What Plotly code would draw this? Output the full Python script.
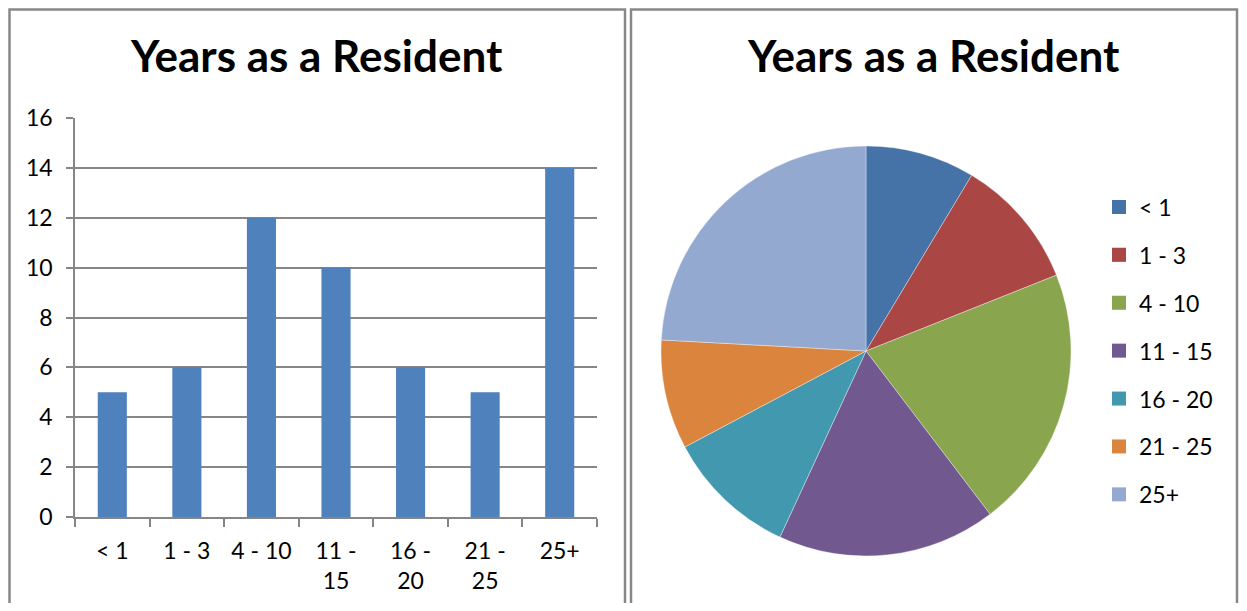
import plotly.graph_objects as go

categories = ["< 1", "1 - 3", "4 - 10", "11 - 15", "16 - 20", "21 - 25", "25+"]
bar_tick_labels = ["< 1", "1 - 3", "4 - 10", "11 -<br>15", "16 -<br>20", "21 -<br>25", "25+"]
values = [5, 6, 12, 10, 6, 5, 14]
pie_colors = ["#4572A7", "#AA4643", "#89A54E", "#71588F", "#4198AF", "#DB843D", "#93A9CF"]
bar_color = "#4F81BD"
title_text = "Years as a Resident"

OFF = 8  # page body margin
W, H = 1247 - 2 * OFF, 611 - 2 * OFF
FONT = "Lato"
GRID = "#868686"


def px(x):
    return (x - OFF) / W


def py(y):
    return 1 - (y - OFF) / H


fig = go.Figure()

fig.add_trace(go.Bar(
    x=categories, y=values, marker=dict(color=bar_color, line=dict(width=0)),
    showlegend=False, hoverinfo="x+y",
))

R = 205
CX, CY = 866, 351
fig.add_trace(go.Pie(
    labels=categories, values=values, sort=False, direction="clockwise",
    rotation=0, textinfo="none", showlegend=False,
    marker=dict(colors=pie_colors, line=dict(color="rgba(255,255,255,0.6)", width=0.6)),
    domain=dict(x=[px(CX - R), px(CX + R)], y=[py(CY + R), py(CY - R)]),
))

# legend entries (one group each so spacing can match)
for i, (c, col) in enumerate(zip(categories, pie_colors)):
    fig.add_trace(go.Scatter(
        x=[None], y=[None], mode="markers", name=c,
        marker=dict(symbol="square", size=14, color=col),
        legendgroup=f"g{i}", showlegend=True, xaxis="x2", yaxis="y2",
    ))

fig.update_layout(
    width=W, height=H,
    margin=dict(l=0, r=0, t=0, b=0, pad=0, autoexpand=False),
    paper_bgcolor="white", plot_bgcolor="white",
    font=dict(family=FONT, size=23, color="#000000"),
    bargap=0.61,
    xaxis=dict(
        domain=[px(75), px(597)],
        showline=True, linecolor=GRID, linewidth=1.5,
        ticks="outside", ticklen=8, tickcolor=GRID, tickwidth=1.5,
        tickson="boundaries",
        tickmode="array", tickvals=categories, ticktext=bar_tick_labels,
        tickfont=dict(family=FONT, size=23),
        ticklabelstandoff=13, automargin=False,
        showgrid=False, zeroline=False, fixedrange=True,
    ),
    yaxis=dict(
        domain=[py(517), py(118)],
        range=[0, 16], dtick=2,
        showline=True, linecolor=GRID, linewidth=1.5,
        ticks="outside", ticklen=7, tickcolor=GRID, tickwidth=1.5,
        showgrid=True, gridcolor=GRID, gridwidth=1.5,
        zeroline=False, tickfont=dict(family=FONT, size=23),
        ticklabelstandoff=9, fixedrange=True, automargin=False,
    ),
    xaxis2=dict(domain=[0.99, 1.0], visible=False, automargin=False),
    yaxis2=dict(domain=[0.99, 1.0], visible=False, anchor="x2", automargin=False),
    legend=dict(
        x=px(1099), y=py(185.5), xanchor="left", yanchor="top",
        font=dict(family=FONT, size=23), tracegroupgap=15,
        bgcolor="rgba(0,0,0,0)", itemclick=False, itemdoubleclick=False,
    ),
    annotations=[
        dict(text=f"<b>{title_text}</b>", x=px(316), y=py(27), xref="paper", yref="paper",
             showarrow=False, font=dict(family=FONT, size=44, color="#000000"),
             xanchor="center", yanchor="top"),
        dict(text=f"<b>{title_text}</b>", x=px(934), y=py(27), xref="paper", yref="paper",
             showarrow=False, font=dict(family=FONT, size=44, color="#000000"),
             xanchor="center", yanchor="top"),
    ],
    shapes=[
        dict(type="rect", xref="paper", yref="paper", x0=px(9.5), x1=px(625), y0=py(640), y1=py(9.5),
             line=dict(color="#888888", width=2.5), fillcolor="rgba(0,0,0,0)", layer="below"),
        dict(type="rect", xref="paper", yref="paper", x0=px(631), x1=px(1237), y0=py(640), y1=py(9.5),
             line=dict(color="#888888", width=2.5), fillcolor="rgba(0,0,0,0)", layer="below"),
    ],
)

fig.write_html("out.html")
